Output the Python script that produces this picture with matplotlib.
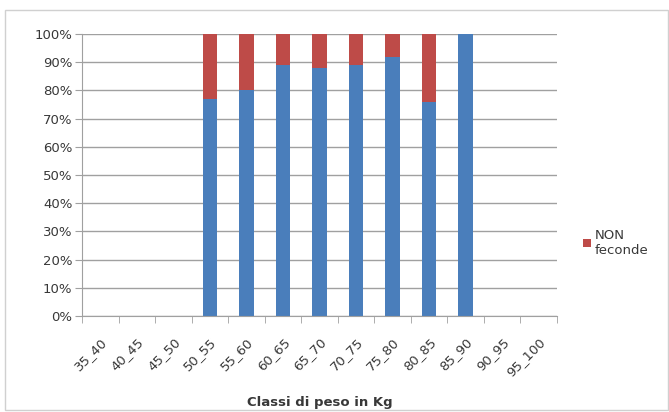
import numpy as np
import matplotlib.pyplot as plt
from matplotlib.patches import Rectangle

classes = ['35_40', '40_45', '45_50', '50_55', '55_60', '60_65', '65_70',
           '70_75', '75_80', '80_85', '85_90', '90_95', '95_100']
feconde = [0, 0, 0, 77, 80, 89, 88, 89, 92, 76, 100, 0, 0]
non_feconde = [0, 0, 0, 23, 20, 11, 12, 11, 8, 24, 0, 0, 0]

blue = '#4a7ebb'
red = '#be4b48'
txt = '#383838'

fig = plt.figure(figsize=(6.69, 4.12), dpi=100)
fig.patches.append(Rectangle((0.008, 0.005), 0.99, 0.97, transform=fig.transFigure,
                             fill=False, edgecolor='#d0d0d0', lw=1))
ax = fig.add_axes([0.1226, 0.233, 0.71, 0.6845])

x = np.arange(len(classes))
ax.bar(x, feconde, 0.4, color=blue, label='feconde')
ax.bar(x, non_feconde, 0.4, bottom=feconde, color=red, label='NON\nfeconde')

ax.set_xlim(-0.5, len(classes) - 0.5)
ax.set_ylim(0, 100)
ax.set_yticks(range(0, 101, 10))
ax.set_yticklabels([f'{v}%' for v in range(0, 101, 10)], fontsize=9.5, color=txt)
ax.yaxis.grid(True, color='#a0a0a0', lw=1)
ax.set_axisbelow(True)
ax.tick_params(axis='y', length=5, color='#a0a0a0', direction='out', pad=2)

ax.set_xticks(x)
ax.set_xticklabels(classes, rotation=45, ha='right', rotation_mode='anchor',
                   fontsize=9.5, color=txt)
ax.tick_params(axis='x', length=0, pad=14)
ax.set_xticks(np.arange(-0.5, len(classes)), minor=True)
ax.tick_params(axis='x', which='minor', length=5, color='#a0a0a0')

for s in ['top', 'right']:
    ax.spines[s].set_visible(False)
for s in ['left', 'bottom']:
    ax.spines[s].set_color('#a0a0a0')

ax.set_xlabel('Classi di peso in Kg', fontsize=9.5, fontweight='bold', color=txt,
              labelpad=12)

h, l = ax.get_legend_handles_labels()
ax.legend(h[1:], l[1:], loc='center left', bbox_to_anchor=(1.03, 0.26), frameon=False,
          fontsize=9.5, handlelength=0.6, handleheight=0.6, handletextpad=0.3,
          labelcolor=txt, alignment='left')

fig.savefig('out.png', dpi=100)
